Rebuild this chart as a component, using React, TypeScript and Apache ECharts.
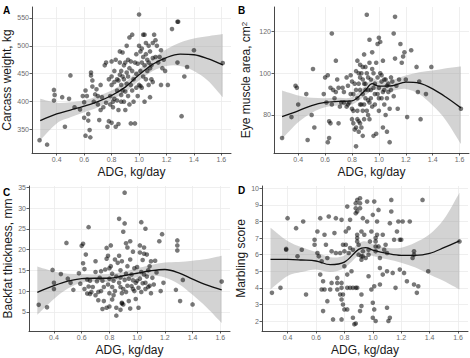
import { useEffect, useRef } from "react";
import * as echarts from "echarts";

// ADG grid on which the loess fits and their confidence limits are tabulated
const ADG_GRID = [0.28, 0.4, 0.5, 0.6, 0.7, 0.8, 0.9, 0.95, 1.0, 1.1, 1.2, 1.3, 1.4, 1.5, 1.61];

// A: carcass weight
const carcassFit = [366, 378, 385, 392, 400, 411, 426, 437, 448, 467, 479, 485, 484, 477, 466];
const carcassLo = [331, 361, 372, 381, 390, 403, 417, 427, 438, 455, 464, 464, 455, 438, 408];
const carcassHi = [405, 398, 399, 402, 410, 420, 435, 446, 457, 478, 494, 506, 513, 517, 521];
const carcassPoints: [number, number][] = [
  [0.275, 331], [0.33, 323], [0.38, 421], [0.385, 412], [0.38, 402], [0.44, 408], [0.46, 355], [0.49, 405],
  [0.5, 447], [0.53, 390], [0.57, 386], [0.59, 410], [0.6, 371], [0.6, 399], [0.61, 339], [0.61, 420],
  [0.62, 410], [0.63, 366], [0.63, 378], [0.64, 349], [0.645, 336], [0.65, 452], [0.65, 447], [0.66, 438],
  [0.66, 427], [0.67, 400], [0.68, 413], [0.69, 422], [0.7, 410], [0.7, 395], [0.71, 367], [0.72, 430],
  [0.72, 385], [0.73, 408], [0.74, 390], [0.75, 465], [0.76, 470], [0.76, 398], [0.77, 355], [0.78, 365],
  [0.78, 440], [0.79, 395], [0.79, 410], [0.8, 472], [0.8, 445], [0.8, 430], [0.8, 362], [0.81, 400],
  [0.81, 390], [0.82, 455], [0.82, 435], [0.82, 405], [0.83, 475], [0.83, 355], [0.84, 440], [0.84, 420],
  [0.84, 402], [0.85, 438], [0.85, 385], [0.85, 360], [0.86, 490], [0.86, 470], [0.86, 448], [0.87, 455],
  [0.87, 430], [0.87, 412], [0.87, 400], [0.88, 488], [0.88, 445], [0.88, 420], [0.89, 465], [0.89, 440],
  [0.89, 400], [0.9, 470], [0.9, 418], [0.9, 385], [0.91, 500], [0.91, 452], [0.91, 432], [0.92, 475],
  [0.92, 445], [0.92, 410], [0.93, 515], [0.93, 460], [0.93, 395], [0.94, 472], [0.94, 430], [0.95, 520],
  [0.95, 455], [0.95, 420], [0.94, 361], [0.96, 440], [0.96, 400], [0.97, 361], [0.97, 470], [0.98, 485],
  [0.98, 450], [0.98, 425], [0.99, 468], [0.99, 410], [1.0, 556], [1.0, 500], [1.0, 430], [1.01, 490],
  [1.01, 455], [1.01, 428], [1.02, 495], [1.02, 470], [1.02, 425], [1.03, 520], [1.03, 480], [1.03, 445],
  [1.04, 520], [1.04, 465], [1.04, 400], [1.05, 505], [1.05, 485], [1.05, 440], [1.06, 475], [1.06, 455],
  [1.07, 500], [1.07, 470], [1.07, 430], [1.08, 490], [1.08, 460], [1.08, 408], [1.09, 465], [1.09, 440],
  [1.1, 505], [1.1, 478], [1.1, 435], [1.11, 520], [1.12, 510], [1.12, 480], [1.13, 500], [1.14, 470],
  [1.15, 480], [1.16, 492], [1.16, 430], [1.17, 460], [1.18, 475], [1.19, 455], [1.21, 430], [1.24, 530],
  [1.28, 543], [1.285, 543], [1.28, 470], [1.31, 374], [1.33, 445], [1.35, 462], [1.4, 492], [1.61, 469],
];

// B: eye muscle area
const eyeFit = [79.2, 82, 84.5, 86, 86.5, 86.8, 92, 95, 93.8, 94, 95.7, 95.2, 92.5, 88.5, 83.4];
const eyeLo = [68.5, 76.5, 81, 83.7, 84.5, 85, 89.3, 92, 91.7, 91.7, 92.5, 90, 84.5, 77.3, 66.1];
const eyeHi = [91.7, 89.3, 88.2, 88, 88.2, 88.6, 94.2, 97.5, 96.2, 96.8, 98.9, 100.5, 101.3, 102.4, 103.2];
const eyePoints: [number, number][] = [
  [0.28, 69], [0.35, 79], [0.38, 94], [0.39, 93], [0.4, 85], [0.46, 90], [0.47, 68], [0.5, 80],
  [0.51, 102], [0.52, 74], [0.59, 90], [0.6, 98], [0.61, 86], [0.62, 99], [0.62, 67], [0.63, 69],
  [0.63, 77], [0.64, 76], [0.64, 93], [0.65, 119], [0.66, 92], [0.67, 88], [0.68, 106], [0.69, 97],
  [0.7, 76], [0.71, 84], [0.72, 86], [0.73, 93], [0.74, 91], [0.76, 98], [0.77, 94], [0.77, 85],
  [0.78, 86], [0.79, 99], [0.8, 83], [0.8, 78], [0.81, 76], [0.81, 90], [0.82, 73], [0.83, 65],
  [0.83, 101], [0.84, 106], [0.84, 88], [0.84, 82], [0.85, 95], [0.85, 77], [0.86, 104], [0.86, 92],
  [0.87, 100], [0.87, 85], [0.87, 74], [0.88, 97], [0.88, 90], [0.89, 109], [0.89, 85], [0.89, 78],
  [0.9, 95], [0.9, 103], [0.9, 88], [0.91, 128], [0.91, 82], [0.92, 98], [0.92, 92], [0.93, 116],
  [0.93, 105], [0.93, 86], [0.94, 97], [0.94, 92], [0.95, 110], [0.95, 84], [0.96, 100], [0.96, 70],
  [0.97, 95], [0.97, 90], [0.98, 105], [0.98, 71], [0.99, 114], [0.99, 98], [1.0, 117], [1.0, 93],
  [1.0, 82], [1.01, 115], [1.01, 100], [1.02, 96], [1.02, 88], [1.03, 106], [1.03, 74], [1.04, 97],
  [1.04, 92], [1.05, 80], [1.05, 97], [1.06, 72], [1.06, 88], [1.07, 95], [1.08, 83], [1.08, 67],
  [1.09, 92], [1.1, 96], [1.11, 119], [1.11, 89], [1.12, 127], [1.12, 107], [1.13, 94], [1.14, 83],
  [1.15, 97], [1.16, 114], [1.17, 105], [1.18, 108], [1.19, 110], [1.2, 97], [1.21, 79], [1.24, 111],
  [1.28, 103], [1.29, 91], [1.3, 96], [1.31, 78], [1.35, 90], [1.39, 103], [1.61, 83],
  [0.8, 96], [0.82, 95], [0.83, 92], [0.85, 100], [0.86, 85], [0.88, 82], [0.89, 95], [0.9, 92],
  [0.91, 100], [0.92, 87], [0.94, 88], [0.95, 102], [0.96, 93], [0.97, 85], [0.99, 90], [1.0, 88],
  [1.02, 99], [1.03, 91], [1.04, 85], [1.06, 94], [1.07, 91], [1.09, 98], [0.79, 90], [0.76, 84],
  [0.74, 86], [0.7, 93], [0.65, 85], [0.68, 91], [0.86, 98], [0.88, 103], [0.81, 82], [0.84, 78],
  [0.86, 76], [0.83, 74], [0.85, 72], [0.92, 80], [0.93, 78], [0.88, 70],
];

// C: backfat thickness
const fatFit = [9.7, 11.3, 12.4, 13.0, 13.1, 13.1, 13.7, 14.0, 14.3, 14.9, 15.2, 14.4, 12.9, 11.5, 10.3];
const fatLo = [4.3, 8.1, 10.6, 12.0, 12.3, 12.2, 12.9, 13.1, 13.3, 13.7, 13.3, 11.7, 9.1, 6.1, 2.3];
const fatHi = [15.9, 14.7, 14.2, 14.1, 14.0, 14.1, 14.6, 15.0, 15.5, 16.3, 16.9, 17.0, 17.3, 17.7, 18.5];
const fatPoints: [number, number][] = [
  [0.29, 6.7], [0.35, 6.1], [0.39, 15.1], [0.4, 12.0], [0.4, 10.5], [0.45, 14.1], [0.49, 21.6], [0.5, 13.0],
  [0.52, 12.0], [0.54, 10.3], [0.58, 14.3], [0.59, 11.8], [0.6, 20.9], [0.61, 21.4], [0.61, 16.7], [0.62, 15.3],
  [0.62, 10.5], [0.63, 18.8], [0.64, 12.8], [0.64, 9.4], [0.65, 25.4], [0.65, 11.1], [0.66, 9.3], [0.67, 9.8],
  [0.7, 17.2], [0.7, 14.6], [0.71, 12.4], [0.72, 9.8], [0.72, 7.8], [0.74, 14.8], [0.75, 12.5], [0.75, 5.7],
  [0.76, 7.6], [0.77, 15.2], [0.78, 20.4], [0.79, 18.5], [0.79, 11.6], [0.8, 13.0], [0.8, 9.5], [0.81, 21.0],
  [0.81, 16.0], [0.82, 14.2], [0.82, 8.0], [0.83, 12.5], [0.84, 17.6], [0.84, 10.0], [0.85, 6.0], [0.85, 4.1],
  [0.87, 27.4], [0.87, 18.5], [0.88, 15.0], [0.88, 11.0], [0.89, 9.5], [0.89, 17.2], [0.9, 24.3], [0.9, 6.8],
  [0.91, 26.3], [0.91, 33.7], [0.92, 21.5], [0.92, 14.2], [0.93, 20.5], [0.93, 11.3], [0.94, 7.6], [0.95, 22.0],
  [0.95, 17.6], [0.96, 14.0], [0.97, 19.5], [0.97, 10.5], [0.98, 15.5], [0.99, 8.1], [1.0, 12.5], [1.01, 6.0],
  [1.02, 21.0], [1.02, 19.3], [1.03, 26.6], [1.03, 14.6], [1.04, 11.9], [1.05, 19.0], [1.05, 20.5], [1.06, 25.0],
  [1.06, 12.0], [1.07, 18.8], [1.08, 15.0], [1.09, 11.3], [1.1, 17.2], [1.11, 13.2], [1.12, 11.6], [1.13, 17.3],
  [1.14, 14.5], [1.16, 22.0], [1.17, 10.0], [1.18, 23.7], [1.19, 12.0], [1.28, 10.3], [1.29, 22.2], [1.29, 21.0],
  [1.29, 19.8], [1.31, 7.6], [1.33, 12.7], [1.4, 6.8], [1.61, 12.3],
  [0.78, 17.8], [0.8, 15.5], [0.82, 11.0], [0.83, 9.0], [0.85, 13.5], [0.86, 16.8], [0.87, 12.0], [0.88, 13.3],
  [0.89, 7.0], [0.89, 7.2], [0.9, 10.5], [0.91, 12.7], [0.92, 9.8], [0.93, 16.0], [0.94, 13.0], [0.96, 11.2],
  [0.97, 12.6], [0.98, 10.0], [0.99, 12.0], [1.0, 15.8], [1.01, 10.8], [1.02, 13.0], [1.03, 9.8], [1.04, 17.5],
  [1.05, 14.0], [1.06, 10.5], [1.07, 13.5], [1.08, 11.0], [1.09, 16.0], [1.1, 9.5], [0.76, 11.0], [0.74, 10.0],
  [0.73, 13.2], [0.7, 9.0], [0.68, 11.0], [0.66, 12.5], [0.8, 6.3], [0.78, 6.0], [0.95, 5.8], [0.88, 5.5],
];

// D: marbling score
const marbFit = [5.72, 5.72, 5.68, 5.62, 5.4, 5.55, 6.32, 6.42, 6.28, 6.08, 5.96, 5.96, 6.08, 6.42, 6.83];
const marbLo = [3.9, 4.71, 4.95, 5.1, 4.95, 5.2, 5.96, 6.05, 5.92, 5.72, 5.52, 5.22, 4.81, 4.41, 3.9];
const marbHi = [7.63, 6.83, 6.45, 6.16, 5.85, 5.95, 6.67, 6.8, 6.63, 6.42, 6.42, 6.73, 7.23, 8.13, 9.74];
const marbPoints: [number, number][] = [
  [0.29, 3.7], [0.35, 4.0], [0.39, 6.3], [0.39, 6.35], [0.4, 8.2], [0.46, 7.6], [0.47, 5.9], [0.5, 6.3],
  [0.51, 8.0], [0.53, 3.6], [0.59, 6.9], [0.59, 6.6], [0.61, 7.4], [0.61, 6.1], [0.62, 5.9], [0.63, 8.2],
  [0.63, 4.8], [0.64, 5.6], [0.64, 3.9], [0.65, 4.4], [0.66, 3.9], [0.65, 2.6], [0.66, 7.2], [0.67, 6.6],
  [0.68, 5.8], [0.69, 8.3], [0.71, 6.2], [0.71, 4.3], [0.72, 2.1], [0.73, 7.3], [0.74, 6.1], [0.74, 8.2],
  [0.75, 4.3], [0.77, 3.6], [0.77, 6.1], [0.78, 2.1], [0.78, 8.1], [0.78, 4.3], [0.79, 6.6], [0.79, 3.6],
  [0.79, 3.0], [0.8, 5.3], [0.81, 7.4], [0.81, 6.6], [0.82, 2.7], [0.82, 8.9], [0.82, 4.8], [0.83, 7.6],
  [0.84, 6.4], [0.84, 8.1], [0.85, 5.0], [0.86, 2.2], [0.87, 1.8], [0.88, 1.85], [0.88, 9.1], [0.89, 9.3],
  [0.89, 8.6], [0.89, 4.0], [0.9, 6.6], [0.91, 8.8], [0.91, 9.4], [0.91, 9.1], [0.92, 3.6], [0.92, 7.4],
  [0.93, 8.2], [0.93, 5.9], [0.94, 7.2], [0.96, 9.2], [0.96, 8.0], [0.97, 4.7], [0.97, 6.3], [0.98, 6.8],
  [0.99, 3.9], [0.99, 7.4], [1.0, 8.4], [1.01, 9.2], [1.01, 4.1], [1.01, 2.7], [1.02, 2.0], [1.03, 8.0],
  [1.03, 7.2], [1.04, 6.5], [1.04, 8.7], [1.05, 4.2], [1.05, 5.2], [1.07, 7.2], [1.08, 6.3], [1.09, 6.6],
  [1.12, 2.2], [1.12, 7.9], [1.13, 8.6], [1.13, 9.3], [1.14, 4.9], [1.15, 6.9], [1.16, 4.0], [1.17, 7.4],
  [1.18, 8.0], [1.19, 6.9], [1.19, 5.1], [1.2, 6.9], [1.21, 8.0], [1.22, 4.9], [1.24, 4.4], [1.26, 8.0],
  [1.28, 5.8], [1.29, 4.2], [1.29, 6.2], [1.29, 6.0], [1.31, 3.7], [1.32, 4.1], [1.35, 9.3], [1.39, 5.0],
  [1.61, 6.8],
  [0.88, 8.8], [0.88, 8.5], [0.89, 7.0], [0.89, 7.2], [0.89, 6.8], [1.02, 6.8], [1.02, 7.0], [1.02, 6.5],
  [1.02, 6.2], [0.9, 6.0], [0.92, 5.9], [0.92, 5.7], [0.95, 5.8], [0.86, 4.0], [0.88, 4.0], [0.84, 4.0],
  [0.82, 4.0], [0.78, 4.0], [0.8, 6.2], [0.86, 6.3], [0.83, 6.1], [0.93, 6.2], [0.97, 6.0], [1.05, 5.8],
  [1.1, 6.1], [1.1, 5.0], [1.07, 4.8], [1.1, 2.8], [1.11, 2.0], [1.0, 3.1], [1.0, 2.2], [0.92, 2.9],
  [0.91, 2.6], [0.8, 2.7], [0.78, 3.3], [0.75, 3.9], [0.75, 4.6], [0.7, 3.9], [0.68, 3.2],
];

const X_NAME = "ADG, kg/day";
const X_MIN = 0.22;
const X_MAX = 1.67;

const FONT = "'Liberation Sans', Arial, Helvetica, sans-serif";
const INK = "#1a1a1a";
const TICK_TEXT = "#6b6b6b";
const GRID_LINE = "#ebebeb";
const AXIS_LINE = "#333333";
const POINT = "rgba(0,0,0,0.66)";
const BAND = "rgba(150,150,150,0.42)";

type Panel = {
  letter: string;
  yName: string;
  points: [number, number][];
  fit: number[];
  lo: number[];
  hi: number[];
  yMin: number;
  yMax: number;
  ySplit: number;
  box: { left: number; top: number; width: number; height: number };
  yNameGap: number;
  letterPos: [number, number];
};

const panels: Panel[] = [
  {
    letter: "A", yName: "Carcass weight, kg", points: carcassPoints,
    fit: carcassFit, lo: carcassLo, hi: carcassHi,
    yMin: 308, yMax: 569.5, ySplit: 5,
    box: { left: 32, top: 7, width: 199, height: 146 }, yNameGap: 19, letterPos: [3, 5],
  },
  {
    letter: "B", yName: "Eye muscle area, cm{sup|2}", points: eyePoints,
    fit: eyeFit, lo: eyeLo, hi: eyeHi,
    yMin: 61.8, yMax: 131.7, ySplit: 3,
    box: { left: 274, top: 7, width: 195, height: 146 }, yNameGap: 22, letterPos: [238, 5],
  },
  {
    letter: "C", yName: "Backfat thickness, mm", points: fatPoints,
    fit: fatFit, lo: fatLo, hi: fatHi,
    yMin: 0.4, yMax: 35.3, ySplit: 7,
    box: { left: 29, top: 186, width: 201, height: 145 }, yNameGap: 14, letterPos: [3, 187],
  },
  {
    letter: "D", yName: "Marbling score", points: marbPoints,
    fit: marbFit, lo: marbLo, hi: marbHi,
    yMin: 1.4, yMax: 10.14, ySplit: 8,
    box: { left: 262, top: 186, width: 206, height: 145 }, yNameGap: 12, letterPos: [238, 185],
  },
];

// Catmull-Rom spline through pixel points, written as cubic bezier segments
function splineSegments(pts: number[][], start: "M" | "L"): string {
  let d = `${start}${pts[0][0]},${pts[0][1]}`;
  for (let i = 0; i < pts.length - 1; i++) {
    const p0 = pts[i - 1] || pts[i];
    const p1 = pts[i];
    const p2 = pts[i + 1];
    const p3 = pts[i + 2] || p2;
    const c1x = p1[0] + (p2[0] - p0[0]) / 6;
    const c1y = p1[1] + (p2[1] - p0[1]) / 6;
    const c2x = p2[0] - (p3[0] - p1[0]) / 6;
    const c2y = p2[1] - (p3[1] - p1[1]) / 6;
    d += ` C${c1x},${c1y} ${c2x},${c2y} ${p2[0]},${p2[1]}`;
  }
  return d;
}

function buildOption() {
  const grid: any[] = [];
  const xAxis: any[] = [];
  const yAxis: any[] = [];
  const series: any[] = [];
  const graphic: any[] = [];

  panels.forEach((p, i) => {
    grid.push({ ...p.box, containLabel: false });

    xAxis.push({
      gridIndex: i,
      type: "value",
      min: X_MIN,
      max: X_MAX,
      splitNumber: 7,
      name: X_NAME,
      nameLocation: "middle",
      nameGap: 13,
      nameTextStyle: { fontFamily: FONT, fontSize: 12, color: INK },
      axisLine: { show: true, onZero: false, lineStyle: { color: AXIS_LINE, width: 0.9 } },
      axisTick: { show: true, length: 2.5, lineStyle: { color: AXIS_LINE, width: 0.8 } },
      axisLabel: {
        fontFamily: FONT, fontSize: 7, color: TICK_TEXT, margin: 3,
        showMinLabel: false, showMaxLabel: false,
        formatter: (v: number) => v.toFixed(1),
      },
      splitLine: { show: true, showMinLine: false, showMaxLine: false, lineStyle: { color: GRID_LINE, width: 0.8 } },
    });

    yAxis.push({
      gridIndex: i,
      type: "value",
      min: p.yMin,
      max: p.yMax,
      splitNumber: p.ySplit,
      name: p.yName,
      nameLocation: "middle",
      nameGap: p.yNameGap,
      nameTextStyle: {
        fontFamily: FONT, fontSize: 12, color: INK,
        rich: { sup: { fontFamily: FONT, fontSize: 8, color: INK, verticalAlign: "top" } },
      },
      axisLine: { show: true, onZero: false, lineStyle: { color: AXIS_LINE, width: 0.9 } },
      axisTick: { show: true, length: 2.5, lineStyle: { color: AXIS_LINE, width: 0.8 } },
      axisLabel: {
        fontFamily: FONT, fontSize: 7, color: TICK_TEXT, margin: 3,
        showMinLabel: false, showMaxLabel: false,
      },
      splitLine: { show: true, showMinLine: false, showMaxLine: false, lineStyle: { color: GRID_LINE, width: 0.8 } },
    });

    series.push({
      type: "scatter",
      xAxisIndex: i,
      yAxisIndex: i,
      data: p.points,
      symbolSize: 4.6,
      itemStyle: { color: POINT },
      silent: true,
    });

    // confidence band of the loess fit, drawn as one filled shape
    series.push({
      type: "custom",
      xAxisIndex: i,
      yAxisIndex: i,
      data: ADG_GRID.map((x, k) => [x, p.lo[k], p.hi[k]]),
      encode: { x: 0, y: [1, 2] },
      silent: true,
      renderItem: (params: any, api: any) => {
        if (params.dataIndex !== 0) return null;
        const upper = ADG_GRID.map((x, k) => api.coord([x, p.hi[k]]));
        const lower = ADG_GRID.map((x, k) => api.coord([x, p.lo[k]])).reverse();
        const d = splineSegments(upper, "M") + " " + splineSegments(lower, "L") + " Z";
        return {
          type: "path",
          shape: { pathData: d },
          style: { fill: BAND, stroke: "none" },
          silent: true,
        };
      },
    });

    series.push({
      type: "line",
      xAxisIndex: i,
      yAxisIndex: i,
      data: ADG_GRID.map((x, k) => [x, p.fit[k]]),
      symbol: "none",
      smooth: 0.35,
      lineStyle: { color: "#111111", width: 1.3 },
      silent: true,
    });

    graphic.push({
      type: "text",
      left: p.letterPos[0],
      top: p.letterPos[1],
      style: { text: p.letter, font: `bold 10px ${FONT}`, fill: "#000" },
    });
  });

  return {
    animation: false,
    backgroundColor: "#ffffff",
    grid,
    xAxis,
    yAxis,
    series,
    graphic,
  };
}

export default function App() {
  const ref = useRef<HTMLDivElement>(null);

  useEffect(() => {
    if (!ref.current) return;
    const chart = echarts.init(ref.current, null, { renderer: "svg" });
    chart.setOption(buildOption() as any);
    return () => chart.dispose();
  }, []);

  return (
    <div
      ref={ref}
      style={{ position: "fixed", left: 0, top: 0, width: 470, height: 358, background: "#fff" }}
    />
  );
}
